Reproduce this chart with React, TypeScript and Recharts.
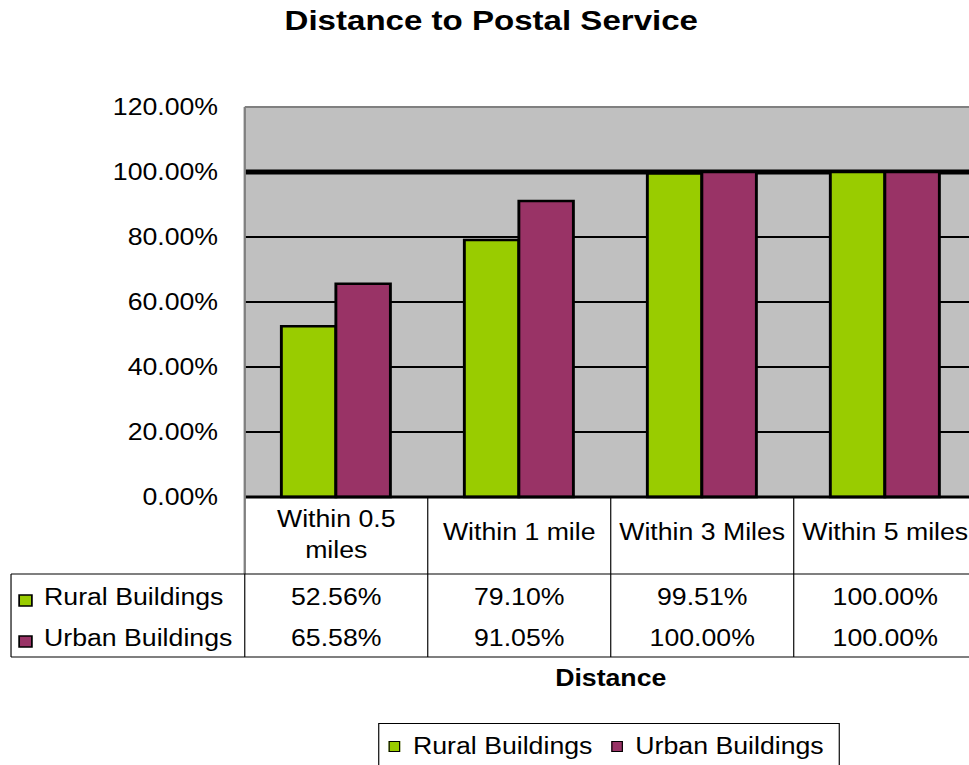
import React from 'react';
import { BarChart, Bar, XAxis, YAxis, CartesianGrid, Legend } from 'recharts';

const categories = ['Within 0.5 miles', 'Within 1 mile', 'Within 3 Miles', 'Within 5 miles'];
const ruralValues = [52.56, 79.1, 99.51, 100.0];
const urbanValues = [65.58, 91.05, 100.0, 100.0];
const yTicks = [0, 20, 40, 60, 80, 100, 120];
const seriesNames = ['Rural Buildings', 'Urban Buildings'];
const seriesColors = ['#99CC00', '#993366'];

const data = categories.map((name, i) => ({ name, rural: ruralValues[i], urban: urbanValues[i] }));
const series = [
  { key: 'rural', name: seriesNames[0], color: seriesColors[0], values: ruralValues },
  { key: 'urban', name: seriesNames[1], color: seriesColors[1], values: urbanValues },
];

// the source picture is stretched sideways, so we lay out in chart units and scale x
const SX = 1.16;
const CHART_W = 850;
const CHART_H = 765;
const PLOT_TOP = 107;
const PLOT_BOTTOM = 497;
const Y_AXIS_W = 211;
const PLOT_W = 631;
const HEADER_BOTTOM = 574;
const TABLE_BOTTOM = 657;
const TABLE_LEFT = 9.5;
const ROW_BASELINES = [605, 646];
const FONT = '"Liberation Sans", Arial, sans-serif';

const fmt = (v: number) => v.toFixed(2) + '%';

const splitLabel = (s: string) => {
  if (s.length <= 14) return [s];
  const i = s.lastIndexOf(' ');
  return [s.slice(0, i), s.slice(i + 1)];
};

const TableTick = (props: any) => {
  const { x, index, payload } = props;
  const band = PLOT_W / categories.length;
  const left = x - band / 2;
  const right = x + band / 2;
  const lines = splitLabel(String(payload.value));
  const baselines = lines.length > 1 ? [527, 558] : [540];

  return (
    <g fontFamily={FONT} fontSize={23} fill="#000">
      <line x1={right} x2={right} y1={PLOT_BOTTOM} y2={TABLE_BOTTOM} stroke="#000" strokeWidth={1} />
      {lines.map((l, i) => (
        <text key={i} x={x} y={baselines[i]} textAnchor="middle">{l}</text>
      ))}
      {series.map((s, r) => (
        <text key={s.key} x={x} y={ROW_BASELINES[r]} textAnchor="middle">{fmt(s.values[index])}</text>
      ))}
      {index === 0 && (
        <g>
          <line x1={left} x2={left} y1={PLOT_BOTTOM} y2={HEADER_BOTTOM} stroke="#808080" strokeWidth={2} />
          <line x1={left} x2={left} y1={HEADER_BOTTOM} y2={TABLE_BOTTOM} stroke="#000" strokeWidth={1} />
          <line x1={TABLE_LEFT} x2={TABLE_LEFT} y1={HEADER_BOTTOM} y2={TABLE_BOTTOM} stroke="#000" strokeWidth={1} />
          <line x1={TABLE_LEFT} x2={CHART_W} y1={HEADER_BOTTOM} y2={HEADER_BOTTOM} stroke="#000" strokeWidth={1} />
          <line x1={TABLE_LEFT} x2={CHART_W} y1={TABLE_BOTTOM} y2={TABLE_BOTTOM} stroke="#000" strokeWidth={1} />
          {series.map((s, r) => (
            <g key={s.key}>
              <rect x={16.5} y={ROW_BASELINES[r] - 10} width={11} height={11} fill={s.color} stroke="#000" strokeWidth={1.5} />
              <text x={38} y={ROW_BASELINES[r]}>{s.name}</text>
            </g>
          ))}
        </g>
      )}
    </g>
  );
};

const gridLine = (p: any) => {
  const y = p.y1;
  const y100 = PLOT_TOP + (PLOT_BOTTOM - PLOT_TOP) * (1 - 100 / 120);
  const isTop = Math.abs(y - PLOT_TOP) < 1;
  const isFull = Math.abs(y - y100) < 1;
  return (
    <line
      key={`h-${y}`}
      x1={p.x1}
      x2={p.x2}
      y1={y}
      y2={p.y2}
      stroke={isTop ? '#808080' : '#000'}
      strokeWidth={isFull ? 5 : 2}
    />
  );
};

const LegendBox = (props: any) => (
  <div
    style={{
      boxSizing: 'border-box',
      width: 398,
      height: 46,
      border: '1px solid #000',
      display: 'flex',
      alignItems: 'center',
      paddingLeft: 8,
      fontFamily: FONT,
      fontSize: 23,
      color: '#000',
      background: '#fff',
      whiteSpace: 'nowrap',
      overflow: 'hidden',
    }}
  >
    {(props.payload || []).map((p: any) => (
      <div key={p.value} style={{ display: 'flex', alignItems: 'center', marginRight: 16, flexShrink: 0 }}>
        <span
          style={{
            display: 'inline-block',
            width: 8,
            height: 9,
            background: p.color,
            border: '1px solid #000',
            marginRight: 11,
            flexShrink: 0,
          }}
        />
        <span style={{ whiteSpace: 'nowrap' }}>{p.value}</span>
      </div>
    ))}
  </div>
);

export default function App() {
  return (
    <div style={{ position: 'absolute', left: 0, top: 0, width: 969, height: 765, overflow: 'hidden', background: '#fff' }}>
      <div style={{ position: 'relative', width: CHART_W, height: CHART_H, transform: `scaleX(${SX})`, transformOrigin: '0 0' }}>
        <div
          style={{
            position: 'absolute',
            left: 0,
            top: 6,
            width: 847,
            textAlign: 'center',
            fontFamily: FONT,
            fontWeight: 'bold',
            fontSize: 28.5,
            lineHeight: '29px',
            color: '#000',
          }}
        >
          Distance to Postal Service
        </div>
        <BarChart
          width={CHART_W}
          height={CHART_H}
          data={data}
          margin={{ top: PLOT_TOP, right: CHART_W - Y_AXIS_W - PLOT_W, bottom: 0, left: 0 }}
          barCategoryGap="20%"
          barGap={0}
        >
          <CartesianGrid vertical={false} fill="#C0C0C0" fillOpacity={1} horizontal={gridLine} />
          <XAxis
            dataKey="name"
            height={CHART_H - PLOT_BOTTOM}
            interval={0}
            tickLine={false}
            axisLine={{ stroke: '#000', strokeWidth: 3 }}
            tick={(p: any) => <TableTick {...p} />}
            label={{ value: 'Distance', position: 'insideBottom', offset: 79, fill: '#000', fontSize: 23, fontWeight: 'bold', fontFamily: FONT }}
          />
          <YAxis
            type="number"
            domain={[0, 120]}
            ticks={yTicks}
            interval={0}
            width={Y_AXIS_W}
            tickSize={0}
            tickMargin={23}
            tickLine={false}
            axisLine={{ stroke: '#808080', strokeWidth: 2 }}
            tick={{ fill: '#000', fontSize: 23, fontFamily: FONT }}
            tickFormatter={fmt}
          />
          <Legend
            layout="vertical"
            align="center"
            verticalAlign="middle"
            wrapperStyle={{ left: 326, top: 723, width: 398, height: 46 }}
            content={(p: any) => <LegendBox {...p} />}
          />
          {series.map((s) => (
            <Bar
              key={s.key}
              dataKey={s.key}
              name={s.name}
              fill={s.color}
              stroke="#000"
              strokeWidth={2.5}
              isAnimationActive={false}
            />
          ))}
        </BarChart>
      </div>
    </div>
  );
}
